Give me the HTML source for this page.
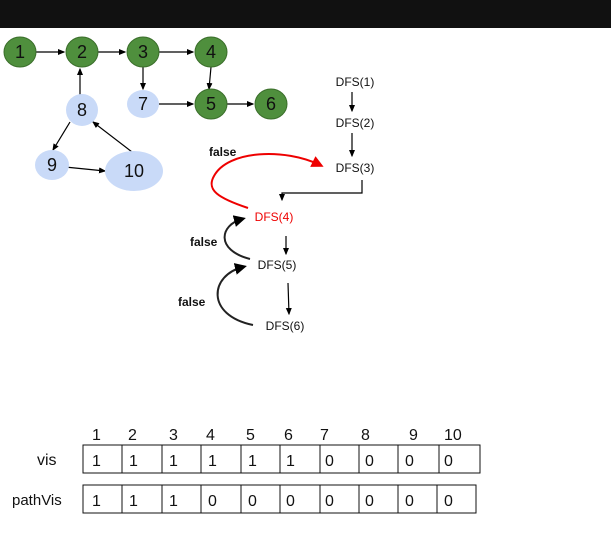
<!DOCTYPE html>
<html><head><style>body{margin:0;background:#fff}svg{display:block}</style></head><body>
<svg width="611" height="550" viewBox="0 0 611 550" xmlns="http://www.w3.org/2000/svg" font-family="Liberation Sans, sans-serif">
<defs>
<marker id="a" markerWidth="6" markerHeight="6" refX="5" refY="3" orient="auto"><path d="M0,0.5 L6,3 L0,5.5z" fill="#000"/></marker>
<marker id="r" markerWidth="6" markerHeight="6" refX="4" refY="3" orient="auto"><path d="M0,0 L6,3 L0,6z" fill="#e00"/></marker>
<marker id="b" markerWidth="6" markerHeight="6" refX="4" refY="3" orient="auto"><path d="M0,0 L6,3 L0,6z" fill="#000"/></marker>
</defs>
<rect x="0" y="0" width="611" height="28" fill="#111"/>
<g stroke="#000" stroke-width="1.2" marker-end="url(#a)">
<line x1="36" y1="52" x2="64" y2="52"/><line x1="98" y1="52" x2="125" y2="52"/><line x1="159" y1="52" x2="193" y2="52"/>
<line x1="143" y1="67" x2="143" y2="89"/><line x1="211" y1="67" x2="209" y2="89"/>
<line x1="159" y1="104" x2="193" y2="104"/><line x1="227" y1="104" x2="253" y2="104"/>
<line x1="80" y1="95" x2="80" y2="69"/><line x1="70" y1="122" x2="53" y2="150"/>
<line x1="65" y1="167" x2="105" y2="171"/><line x1="132" y1="152" x2="93" y2="122"/>
<line x1="352" y1="92" x2="352" y2="111"/><line x1="352" y1="133" x2="352" y2="156"/>
<line x1="286" y1="236" x2="286" y2="254"/><line x1="288" y1="283" x2="289" y2="314"/>
</g>
<path d="M362,180 V193 H282 V200" fill="none" stroke="#000" stroke-width="1.2" marker-end="url(#a)"/>
<g stroke="#3a6e2a" stroke-width="1" fill="#4f8f3d">
<ellipse cx="20" cy="52" rx="16" ry="15"/><ellipse cx="82" cy="52" rx="16" ry="15"/><ellipse cx="143" cy="52" rx="16" ry="15"/><ellipse cx="211" cy="52" rx="16" ry="15"/><ellipse cx="211" cy="104" rx="16" ry="15"/><ellipse cx="271" cy="104" rx="16" ry="15"/>
</g>
<g fill="#c9daf8">
<ellipse cx="143" cy="104" rx="16" ry="14"/><ellipse cx="82" cy="110" rx="16" ry="16"/><ellipse cx="52" cy="165" rx="17" ry="15"/><ellipse cx="134" cy="171" rx="29" ry="20"/>
</g>
<g font-size="18" text-anchor="middle" fill="#111">
<text x="20" y="58">1</text><text x="82" y="58">2</text><text x="143" y="58">3</text><text x="211" y="58">4</text><text x="143" y="110">7</text><text x="211" y="110">5</text><text x="271" y="110">6</text><text x="82" y="116">8</text><text x="52" y="171">9</text><text x="134" y="177">10</text>
</g>
<g font-size="12" text-anchor="middle" fill="#111">
<text x="355" y="86">DFS(1)</text><text x="355" y="127">DFS(2)</text><text x="355" y="172">DFS(3)</text>
<text x="274" y="221" fill="#e00">DFS(4)</text><text x="277" y="269">DFS(5)</text><text x="285" y="330">DFS(6)</text>
</g>
<g font-size="12" font-weight="bold" fill="#111">
<text x="209" y="156">false</text><text x="190" y="246">false</text><text x="178" y="306">false</text>
</g>
<path d="M248,208 C218,198 206,190 214,176 C228,150 285,148 320,165" fill="none" stroke="#e00" stroke-width="2" marker-end="url(#r)"/>
<path d="M250,259 C215,250 220,225 242,219" fill="none" stroke="#222" stroke-width="2" marker-end="url(#b)"/>
<path d="M253,325 C205,315 210,275 243,267" fill="none" stroke="#222" stroke-width="2" marker-end="url(#b)"/>
<g font-size="16" fill="#111">
<text x="37" y="465">vis</text><text x="12" y="505" font-size="15">pathVis</text>
</g>
<g fill="none" stroke="#111" stroke-width="1">
<rect x="83" y="445" width="397" height="28"/><rect x="83" y="485" width="393" height="28"/>
<path d="M122,445V473M162,445V473M201,445V473M241,445V473M280,445V473M320,445V473M359,445V473M398,445V473M439,445V473"/>
<path d="M122,485V513M162,485V513M201,485V513M241,485V513M280,485V513M320,485V513M359,485V513M398,485V513M437,485V513"/>
</g>
<g font-size="16" fill="#111">
<text x="92" y="440">1</text><text x="128" y="440">2</text><text x="169" y="440">3</text><text x="206" y="440">4</text><text x="246" y="440">5</text><text x="284" y="440">6</text><text x="320" y="440">7</text><text x="361" y="440">8</text><text x="409" y="440">9</text><text x="444" y="440">10</text>
<text x="92" y="466">1</text><text x="129" y="466">1</text><text x="169" y="466">1</text><text x="208" y="466">1</text><text x="248" y="466">1</text><text x="286" y="466">1</text><text x="325" y="466">0</text><text x="365" y="466">0</text><text x="405" y="466">0</text><text x="444" y="466">0</text>
<text x="92" y="506">1</text><text x="129" y="506">1</text><text x="169" y="506">1</text><text x="208" y="506">0</text><text x="248" y="506">0</text><text x="286" y="506">0</text><text x="325" y="506">0</text><text x="365" y="506">0</text><text x="405" y="506">0</text><text x="444" y="506">0</text>
</g>
</svg>
</body></html>
